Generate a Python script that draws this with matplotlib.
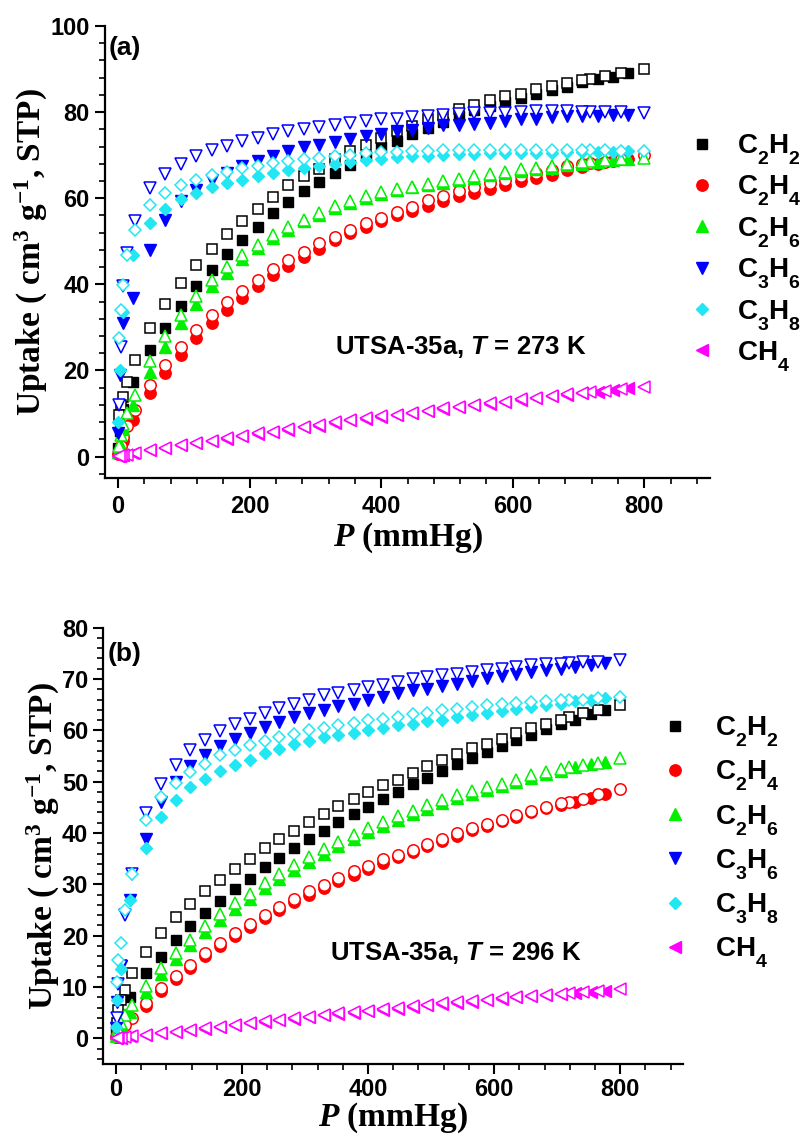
import matplotlib
matplotlib.use('Agg')
import matplotlib.pyplot as plt
import matplotlib._mathtext as _mt
from matplotlib.ticker import MultipleLocator

plt.rcParams['font.family'] = 'Liberation Sans'
plt.rcParams['font.weight'] = 'bold'
plt.rcParams['mathtext.fontset'] = 'custom'
plt.rcParams['mathtext.rm'] = 'Liberation Sans:bold'
plt.rcParams['mathtext.it'] = 'Liberation Serif:italic:bold'
plt.rcParams['mathtext.sf'] = 'Liberation Sans:italic:bold'
# Origin-style subscripts hang lower than mathtext's default
_mt.FontConstantsBase.sub1 = 0.9

# pressure points (mmHg), adsorption up / desorption down
p_ads = [0.5, 2.5, 8, 23, 48, 71, 95, 118, 142, 165, 189, 212, 236, 259, 283, 306, 330, 353,
         377, 400, 424, 447, 471, 494, 518, 541, 565, 588, 612, 635, 659, 682, 706, 729, 753, 776]
p_des = [800, 765, 741, 718, 706, 683, 659, 635, 612, 588, 565, 541, 518, 494, 471, 447, 424, 400,
         377, 353, 330, 306, 283, 259, 236, 212, 189, 165, 142, 118, 95, 71, 48, 25, 14, 8, 4, 1.5]

gases = ['C2H2', 'C2H4', 'C2H6', 'C3H6', 'C3H8', 'CH4']
labels = ['C$_\\mathregular{2}$H$_\\mathregular{2}$', 'C$_\\mathregular{2}$H$_\\mathregular{4}$',
          'C$_\\mathregular{2}$H$_\\mathregular{6}$', 'C$_\\mathregular{3}$H$_\\mathregular{6}$',
          'C$_\\mathregular{3}$H$_\\mathregular{8}$', 'CH$_\\mathregular{4}$']
colors = ['#000000', '#FF0000', '#00F000', '#0000FF', '#22E6F2', '#FF00FF']
markers = ['s', 'o', '^', 'v', 'D', '<']
msizes = [6.8, 8.2, 8.4, 8.4, 6.0, 8.4]

# 273 K uptake (cm3/g STP)
ads_273 = {
    'C2H2': [2.0, 6.0, 11.0, 17.4, 24.8, 29.8, 35.0, 39.5, 43.4, 47.0, 50.3, 53.4, 56.6, 59.1, 61.6, 63.8, 65.9, 67.8,
             69.7, 71.8, 73.2, 74.8, 76.3, 77.8, 79.2, 80.4, 81.5, 82.3, 83.3, 84.1, 85.1, 85.9, 86.9, 87.6, 88.2, 89.1],
    'C2H4': [0.5, 1.5, 3.5, 8.5, 14.7, 19.3, 23.6, 27.5, 31.0, 34.1, 36.8, 39.5, 42.2, 44.3, 46.3, 48.2, 50.3, 51.9,
             53.4, 54.8, 56.0, 57.0, 58.2, 59.3, 60.4, 61.3, 62.2, 63.0, 64.0, 64.8, 65.5, 66.5, 67.3, 68.0, 68.7, 69.2],
    'C2H6': [1.0, 3.0, 6.5, 12.0, 19.7, 25.5, 31.0, 35.5, 39.5, 42.6, 45.9, 48.4, 50.7, 52.7, 54.6, 56.2, 57.7, 59.0,
             60.1, 61.0, 61.8, 62.5, 63.0, 63.6, 64.2, 64.8, 65.3, 65.8, 66.3, 66.7, 67.1, 67.6, 68.0, 68.4, 68.8, 69.0],
    'C3H6': [5.5, 19.0, 31.0, 36.8, 48.0, 55.0, 59.3, 62.0, 64.3, 65.9, 67.4, 68.6, 69.9, 70.9, 71.8, 72.4, 73.0, 73.8,
             74.4, 75.0, 75.5, 75.9, 76.3, 76.9, 77.1, 77.3, 77.5, 77.9, 78.3, 78.5, 78.8, 79.0, 79.0, 79.2, 79.4, 79.4],
    'C3H8': [8.0, 20.0, 33.5, 46.9, 54.2, 57.5, 59.8, 61.3, 62.6, 63.5, 64.3, 65.1, 65.9, 66.6, 67.0, 67.4, 68.0, 68.3,
             68.8, 69.1, 69.5, 69.7, 69.9, 70.1, 70.2, 70.3, 70.4, 70.5, 70.5, 70.6, 70.6, 70.7, 70.7, 70.8, 70.8, 70.9],
    'CH4': [0.1, 0.15, 0.3, 0.7, 1.4, 1.9, 2.6, 3.1, 3.6, 4.1, 4.7, 5.3, 5.7, 6.2, 6.8, 7.2, 7.8, 8.4,
            8.8, 9.2, 9.6, 10.0, 10.5, 11.0, 11.5, 11.9, 12.3, 12.6, 13.2, 13.6, 14.0, 14.4, 14.7, 15.0, 15.4, 15.8],
}
des_273 = {
    'C2H2': [89.9, 89.1, 88.3, 87.7, 87.4, 86.8, 86.0, 85.4, 84.3, 83.7, 82.7, 81.7, 80.7, 79.4, 78.3, 76.7, 75.5, 74.0,
             72.4, 70.9, 69.0, 66.9, 65.1, 63.0, 60.2, 57.6, 54.8, 51.7, 48.2, 44.4, 40.3, 35.4, 29.8, 22.4, 17.4, 13.9, 12.0, 9.7],
    'C2H4': [70.0, 69.0, 68.5, 68.2, 67.9, 67.4, 66.6, 65.9, 65.1, 64.3, 63.5, 62.6, 61.7, 60.6, 59.5, 57.9, 56.8, 55.4,
             54.2, 52.7, 51.1, 49.6, 47.5, 45.7, 43.5, 41.0, 38.5, 35.8, 32.9, 29.4, 25.5, 21.3, 16.6, 10.8, 7.0, 4.5, 2.5, 1.0],
    'C2H6': [69.3, 69.1, 68.9, 68.6, 68.4, 68.0, 67.5, 67.1, 66.7, 66.2, 65.7, 65.1, 64.5, 63.9, 63.3, 62.7, 62.1, 61.4,
             60.6, 59.3, 58.1, 56.6, 55.0, 53.4, 51.5, 49.2, 46.9, 44.1, 41.0, 37.2, 32.9, 27.9, 22.1, 14.3, 10.0, 7.5, 5.0, 2.5],
    'C3H6': [79.8, 80.0, 80.1, 80.1, 80.1, 80.2, 80.2, 80.2, 80.0, 79.9, 79.8, 79.8, 79.6, 79.4, 79.1, 78.8, 78.5, 78.3,
             78.0, 77.5, 77.1, 76.6, 76.1, 75.5, 74.8, 74.0, 73.2, 72.2, 71.1, 69.9, 68.0, 65.7, 62.4, 54.6, 47.3, 39.5, 25.5, 12.0],
    'C3H8': [71.0, 71.0, 71.1, 71.1, 71.1, 71.1, 71.1, 71.1, 71.1, 71.1, 71.1, 71.1, 71.1, 71.1, 71.0, 70.9, 70.8, 70.7,
             70.5, 70.1, 69.7, 69.3, 69.1, 68.6, 68.2, 67.4, 67.0, 66.2, 65.5, 64.3, 63.1, 61.2, 58.5, 52.7, 46.9, 39.9, 34.0, 27.5],
    'CH4': [16.2, 15.6, 15.3, 15.1, 14.8, 14.5, 14.1, 13.7, 13.3, 12.7, 12.4, 12.0, 11.6, 11.2, 10.6, 10.1, 9.7, 9.3,
            8.9, 8.5, 7.9, 7.3, 6.9, 6.3, 5.8, 5.4, 4.8, 4.2, 3.7, 3.2, 2.7, 1.9, 1.5, 0.7, 0.4, 0.3, 0.2, 0.1],
}

# 296 K uptake (cm3/g STP)
ads_296 = {
    'C2H2': [1.0, 2.5, 4.5, 8.1, 12.7, 15.9, 19.2, 21.9, 24.4, 26.8, 29.0, 31.1, 33.3, 35.2, 37.0, 38.8, 40.4, 42.1,
             43.7, 45.1, 46.6, 48.0, 49.5, 50.8, 52.1, 53.4, 54.7, 55.8, 56.9, 58.1, 59.0, 60.2, 61.2, 62.1, 63.1, 64.0],
    'C2H4': [0.3, 0.8, 1.8, 4.0, 6.3, 9.2, 11.6, 13.7, 16.0, 17.9, 19.9, 21.7, 23.4, 24.9, 26.5, 28.0, 29.3, 30.6,
             31.9, 33.0, 34.2, 35.3, 36.3, 37.4, 38.5, 39.5, 40.5, 41.4, 42.3, 43.2, 44.0, 44.8, 45.5, 46.0, 46.8, 47.6],
    'C2H6': [0.5, 1.2, 2.5, 5.2, 9.0, 12.6, 15.5, 18.1, 20.7, 23.1, 25.2, 27.2, 29.2, 31.1, 32.8, 34.4, 35.9, 37.4,
             38.8, 40.1, 41.4, 42.6, 43.6, 44.7, 45.8, 46.8, 47.6, 48.4, 49.1, 49.9, 50.8, 51.4, 52.0, 52.9, 53.4, 53.9],
    'C3H6': [2.0, 7.0, 14.0, 27.0, 38.8, 46.0, 50.0, 53.0, 55.2, 57.0, 58.3, 59.4, 60.7, 61.6, 62.5, 63.3, 64.0, 64.7,
             65.2, 66.0, 66.5, 67.2, 67.8, 68.1, 68.6, 69.0, 69.6, 70.1, 70.5, 71.0, 71.4, 71.7, 72.0, 72.3, 72.8, 73.1],
    'C3H8': [2.3, 7.5, 13.5, 26.9, 37.0, 43.2, 46.5, 49.0, 50.5, 52.0, 53.3, 54.3, 55.5, 56.3, 57.3, 57.9, 58.6, 59.0,
             59.5, 60.0, 60.5, 61.0, 61.3, 61.8, 62.1, 62.5, 62.9, 63.3, 63.8, 64.2, 64.6, 64.9, 65.2, 65.7, 65.9, 66.2],
    'CH4': [0.0, 0.05, 0.1, 0.4, 0.7, 1.0, 1.3, 1.6, 1.9, 2.2, 2.6, 2.9, 3.2, 3.5, 3.8, 4.1, 4.5, 4.8,
            5.0, 5.3, 5.6, 5.8, 6.1, 6.4, 6.7, 6.9, 7.1, 7.4, 7.7, 8.0, 8.2, 8.4, 8.6, 8.85, 9.1, 9.3],
}
des_296 = {
    'C2H2': [64.9, 64.0, 63.3, 62.5, 62.1, 61.2, 60.4, 59.4, 58.4, 57.4, 56.5, 55.3, 54.2, 53.0, 51.7, 50.4, 49.3, 48.0,
             46.6, 45.2, 43.7, 42.2, 40.4, 38.8, 37.0, 35.0, 33.0, 30.8, 28.7, 26.2, 23.6, 20.5, 16.9, 12.7, 9.4, 7.5, 5.5, 3.0],
    'C2H4': [48.5, 47.6, 46.7, 46.1, 45.8, 45.0, 44.3, 43.5, 42.6, 41.7, 40.9, 39.9, 38.9, 37.8, 36.7, 35.8, 34.9, 33.6,
             32.5, 31.2, 29.9, 28.6, 27.1, 25.5, 24.0, 22.3, 20.5, 18.5, 16.6, 14.3, 12.2, 9.8, 6.8, 4.0, 2.5, 1.5, 0.8, 0.3],
    'C2H6': [54.7, 53.7, 53.2, 52.8, 52.4, 51.9, 51.3, 50.4, 49.6, 49.0, 48.2, 47.4, 46.4, 45.4, 44.3, 43.3, 42.2, 40.9,
             39.6, 38.3, 36.8, 35.4, 33.8, 32.1, 30.2, 28.2, 26.3, 24.2, 21.8, 19.2, 16.6, 13.7, 10.1, 6.5, 4.5, 3.0, 1.8, 0.8],
    'C3H6': [73.6, 73.4, 73.3, 73.1, 73.0, 72.9, 72.7, 72.3, 72.0, 71.7, 71.4, 71.0, 70.7, 70.3, 69.9, 69.4, 68.9, 68.4,
             67.9, 67.3, 66.8, 66.0, 65.2, 64.4, 63.4, 62.3, 61.2, 59.8, 58.1, 56.1, 53.2, 49.6, 43.9, 32.0, 24.0, 14.0, 10.5, 4.0],
    'C3H8': [66.5, 66.2, 66.0, 66.0, 65.9, 65.7, 65.5, 65.3, 65.1, 64.9, 64.6, 64.2, 63.9, 63.4, 63.1, 62.6, 62.3, 62.0,
             61.4, 61.0, 60.5, 60.0, 59.2, 58.7, 57.9, 57.1, 56.1, 55.2, 53.5, 51.9, 49.8, 47.0, 42.5, 32.1, 25.0, 18.5, 15.3, 11.0],
    'CH4': [9.6, 9.3, 9.1, 8.9, 8.7, 8.5, 8.3, 8.1, 7.8, 7.5, 7.2, 7.0, 6.8, 6.5, 6.2, 5.9, 5.7, 5.4,
            5.1, 4.9, 4.6, 4.2, 3.9, 3.6, 3.3, 3.0, 2.6, 2.3, 2.0, 1.65, 1.3, 1.0, 0.7, 0.4, 0.2, 0.1, 0.05, 0.0],
}

fig = plt.figure(figsize=(8, 11.36), dpi=100)
ax1 = fig.add_axes([0.13125, 0.5792, 0.75625, 0.3979])
ax2 = fig.add_axes([0.1291, 0.0634, 0.725, 0.3841])


def panel(ax, ads, des, ytop, ymaj, ymin, tag, temp, ann_xy, tag_xy, leg_xy, txtpad, lspace, xpad):
    handles = []
    for g, c, m, ms in zip(gases, colors, markers, msizes):
        h, = ax.plot(p_ads, ads[g], ls='none', marker=m, ms=ms, mfc=c, mec=c, mew=1.0)
        ax.plot(p_des, des[g], ls='none', marker=m, ms=ms, mfc='white', mec=c, mew=1.1)
        handles.append(h)
    ax.set_xlim(-20, 900)
    ax.set_ylim(-5, ytop)
    ax.spines['top'].set_visible(False)
    ax.spines['right'].set_visible(False)
    for s in ('left', 'bottom'):
        ax.spines[s].set_linewidth(1.6)
    ax.xaxis.set_major_locator(MultipleLocator(200))
    ax.xaxis.set_minor_locator(MultipleLocator(40))
    ax.yaxis.set_major_locator(MultipleLocator(ymaj))
    ax.yaxis.set_minor_locator(MultipleLocator(ymin))
    ax.tick_params(which='major', direction='out', length=7, width=1.5, labelsize=17, pad=4)
    ax.tick_params(axis='x', which='major', pad=xpad)
    ax.tick_params(which='minor', direction='out', length=4, width=1.2)
    ax.set_xlabel('$\\mathit{P}$ (mmHg)', family='Liberation Serif', fontsize=24, weight='bold',
                  labelpad=xpad - 3)
    ax.set_ylabel('Uptake ( cm$^\\mathregular{3}$ g$^\\mathregular{-1}$, STP)', family='Liberation Serif',
                  fontsize=24, weight='bold', labelpad=0)
    ax.text(tag_xy[0], tag_xy[1], tag, transform=ax.transAxes, fontsize=19, va='top', ha='left')
    ax.text(ann_xy[0], ann_xy[1], 'UTSA-35a, $\\mathsf{T}$ = ' + temp, transform=ax.transAxes,
            fontsize=18.5, va='baseline', ha='left')
    ax.legend(handles, labels, loc='upper left', bbox_to_anchor=leg_xy, bbox_transform=fig.transFigure,
              frameon=False, fontsize=20, handlelength=1.0, handletextpad=txtpad, labelspacing=lspace,
              borderpad=0, borderaxespad=0, markerscale=1.0)


panel(ax1, ads_273, des_273, 100, 20, 4, '(a)', '273 K', (0.380, 0.274), (0.006, 0.978),
      (0.8598, 0.8835), 0.76, 0.24, 5)
panel(ax2, ads_296, des_296, 80, 10, 2, '(b)', '296 K', (0.391, 0.238), (0.008, 0.966),
      (0.8264, 0.3712), 0.94, 0.345, 3)

fig.savefig('out.png', dpi=100)
